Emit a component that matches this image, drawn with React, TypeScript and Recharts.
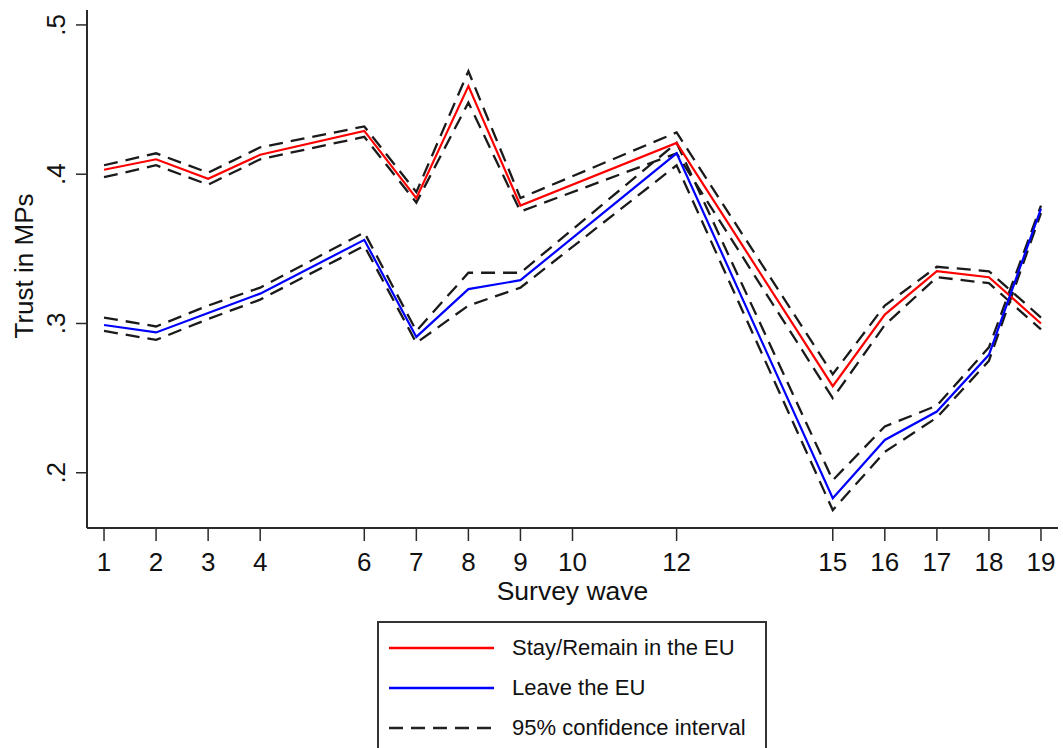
import { LineChart, Line, XAxis, YAxis, Label } from 'recharts';

const waves = [1, 2, 3, 4, 6, 7, 8, 9, 12, 15, 16, 17, 18, 19];
const waveTicks = [1, 2, 3, 4, 6, 7, 8, 9, 10, 12, 15, 16, 17, 18, 19];
const trustTicks = [0.2, 0.3, 0.4, 0.5];

const remain = [0.403, 0.410, 0.397, 0.413, 0.429, 0.384, 0.459, 0.379, 0.421, 0.258, 0.306, 0.335, 0.331, 0.300];
const remainHi = [0.406, 0.414, 0.401, 0.418, 0.432, 0.388, 0.469, 0.384, 0.428, 0.266, 0.312, 0.338, 0.335, 0.304];
const remainLo = [0.398, 0.406, 0.393, 0.410, 0.425, 0.381, 0.448, 0.375, 0.414, 0.250, 0.299, 0.331, 0.327, 0.296];

const leave = [0.299, 0.294, 0.307, 0.320, 0.356, 0.291, 0.323, 0.329, 0.414, 0.183, 0.222, 0.241, 0.279, 0.377];
const leaveHi = [0.304, 0.298, 0.312, 0.324, 0.361, 0.295, 0.334, 0.334, 0.421, 0.195, 0.231, 0.245, 0.284, 0.379];
const leaveLo = [0.295, 0.289, 0.303, 0.316, 0.352, 0.287, 0.312, 0.324, 0.406, 0.175, 0.214, 0.237, 0.275, 0.374];

const legendItems = [
  { label: 'Stay/Remain in the EU', color: '#ff0000', dash: undefined },
  { label: 'Leave the EU', color: '#0000ff', dash: undefined },
  { label: '95% confidence interval', color: '#222222', dash: '14 8' },
];

const data = waves.map((w, i) => ({
  wave: w,
  remain: remain[i],
  remainHi: remainHi[i],
  remainLo: remainLo[i],
  leave: leave[i],
  leaveHi: leaveHi[i],
  leaveLo: leaveLo[i],
}));

const font = '"Liberation Sans", Arial, sans-serif';
const frame = '#2a2a2a';
const ciDash = '14 8';

function YTick({ y, payload }: any) {
  const txt = String(payload.value).replace(/^0/, '');
  return (
    <text
      x={65}
      y={y}
      transform={`rotate(-90, 65, ${y})`}
      textAnchor="middle"
      fontSize={26}
      fontFamily={font}
      fill="#111"
    >
      {txt}
    </text>
  );
}

export default function App() {
  return (
    <div style={{ position: 'absolute', left: 0, top: 0, width: 1063, height: 748, background: '#fff', fontFamily: font }}>
      <LineChart width={1063} height={748} data={data} margin={{ top: 10, right: 5, bottom: 130, left: 0 }}>
        <XAxis
          dataKey="wave"
          type="number"
          domain={[0.673, 19.327]}
          ticks={waveTicks}
          allowDataOverflow
          height={90}
          tickSize={13}
          tickMargin={12}
          axisLine={{ stroke: frame, strokeWidth: 2 }}
          tickLine={{ stroke: frame, strokeWidth: 1.5 }}
          tick={{ fontSize: 26, fill: '#111', fontFamily: font }}
        >
          <Label
            content={({ viewBox }: any) => (
              <text
                x={viewBox.x + viewBox.width / 2}
                y={viewBox.y + 72}
                textAnchor="middle"
                fontSize={26.5}
                fontFamily={font}
                fill="#111"
              >
                Survey wave
              </text>
            )}
          />
        </XAxis>
        <XAxis
          xAxisId="top"
          orientation="top"
          dataKey="wave"
          type="number"
          domain={[0.673, 19.327]}
          height={0}
          tick={false}
          tickLine={false}
          axisLine={{ stroke: frame, strokeWidth: 2 }}
        />
        <YAxis
          type="number"
          domain={[0.163, 0.51]}
          ticks={trustTicks}
          allowDataOverflow
          width={87}
          tickSize={11}
          axisLine={{ stroke: frame, strokeWidth: 2 }}
          tickLine={{ stroke: frame, strokeWidth: 1.5 }}
          tick={<YTick />}
        >
          <Label
            content={({ viewBox }: any) => {
              const cx = viewBox.x + 33;
              const cy = viewBox.y + viewBox.height / 2 - 3;
              return (
                <text
                  x={cx}
                  y={cy}
                  transform={`rotate(-90, ${cx}, ${cy})`}
                  textAnchor="middle"
                  fontSize={26}
                  fontFamily={font}
                  fill="#111"
                >
                  Trust in MPs
                </text>
              );
            }}
          />
        </YAxis>
        <YAxis
          yAxisId="right"
          orientation="right"
          type="number"
          domain={[0.163, 0.51]}
          width={0}
          tick={false}
          tickLine={false}
          axisLine={{ stroke: frame, strokeWidth: 2 }}
        />
        <Line dataKey="remainHi" stroke="#1a1a1a" strokeWidth={2.3} strokeDasharray={ciDash} dot={false} isAnimationActive={false} />
        <Line dataKey="remainLo" stroke="#1a1a1a" strokeWidth={2.3} strokeDasharray={ciDash} dot={false} isAnimationActive={false} />
        <Line dataKey="leaveHi" stroke="#1a1a1a" strokeWidth={2.3} strokeDasharray={ciDash} dot={false} isAnimationActive={false} />
        <Line dataKey="leaveLo" stroke="#1a1a1a" strokeWidth={2.3} strokeDasharray={ciDash} dot={false} isAnimationActive={false} />
        <Line dataKey="remain" stroke="#ff0000" strokeWidth={2.2} dot={false} isAnimationActive={false} />
        <Line dataKey="leave" stroke="#0000ff" strokeWidth={2.2} dot={false} isAnimationActive={false} />
      </LineChart>
      <div
        style={{
          position: 'absolute',
          left: 377,
          top: 621,
          width: 390,
          height: 140,
          border: '2px solid #333',
          boxSizing: 'border-box',
          background: '#fff',
        }}
      >
        {legendItems.map((it, i) => (
          <div key={it.label} style={{ position: 'absolute', left: 0, top: 10 + i * 40, height: 30, display: 'flex', alignItems: 'center' }}>
            <svg width={130} height={30} style={{ display: 'block' }}>
              <line x1={10} y1={15} x2={115} y2={15} stroke={it.color} strokeWidth={2.5} strokeDasharray={it.dash} />
            </svg>
            <span style={{ fontSize: 22, color: '#111', whiteSpace: 'nowrap', marginLeft: 3 }}>{it.label}</span>
          </div>
        ))}
      </div>
    </div>
  );
}
